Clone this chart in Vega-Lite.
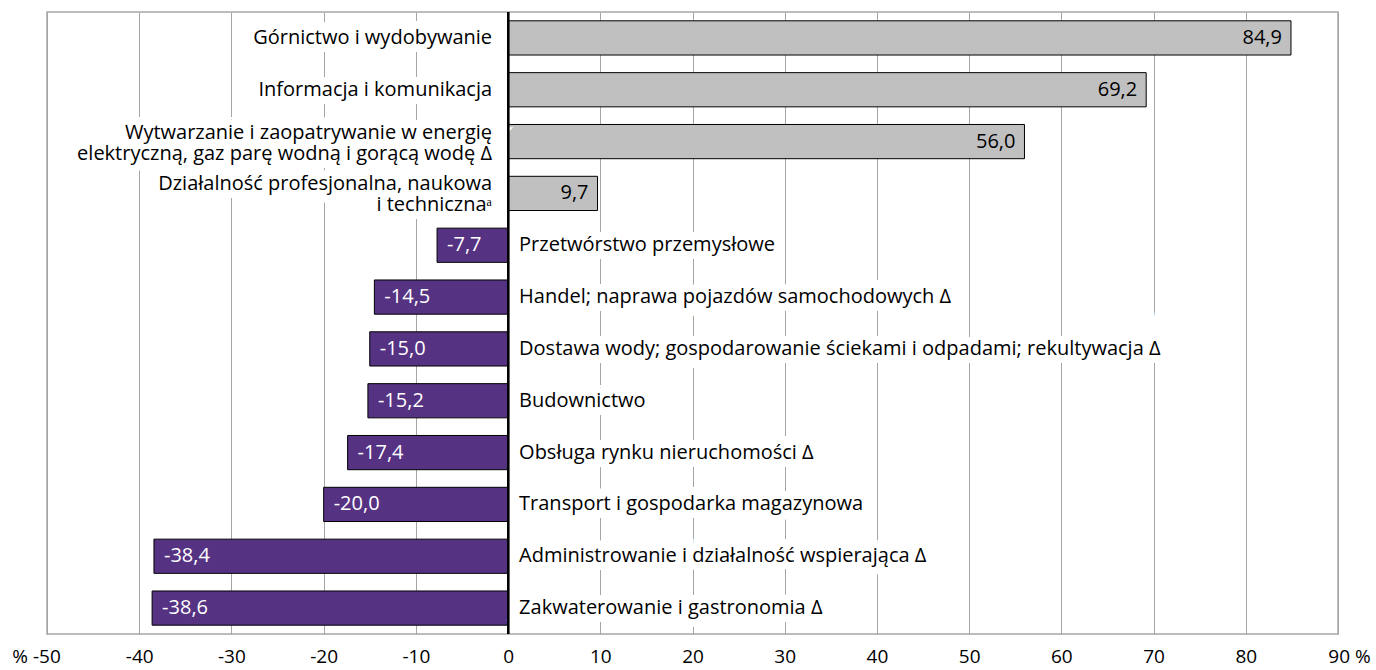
{
  "$schema": "https://vega.github.io/schema/vega-lite/v6.json",
  "width": 1291,
  "height": 622,
  "autosize": {"type": "none"},
  "padding": {"left": 47, "top": 12, "right": 38, "bottom": 36},
  "config": {
    "locale": {"number": {"decimal": ",", "thousands": " ", "grouping": [3], "currency": ["", " zł"], "minus": "-"}},
    "view": {"stroke": "#A6A6A6", "strokeWidth": 1.5},
    "font": "Open Sans",
    "text": {"lineBreak": "\n"}
  },
  "data": {
    "values": [
      {"k": "Górnictwo i wydobywanie", "v": 84.9},
      {"k": "Informacja i komunikacja", "v": 69.2},
      {"k": "Wytwarzanie i zaopatrywanie w energię\nelektryczną, gaz parę wodną i gorącą  wodę Δ", "v": 56.0},
      {"k": "Działalność profesjonalna, naukowa\ni technicznaᵃ", "v": 9.7},
      {"k": "Przetwórstwo przemysłowe", "v": -7.7},
      {"k": "Handel; naprawa pojazdów samochodowych Δ", "v": -14.5},
      {"k": "Dostawa wody; gospodarowanie ściekami i odpadami; rekultywacja Δ", "v": -15.0},
      {"k": "Budownictwo", "v": -15.2},
      {"k": "Obsługa rynku nieruchomości Δ", "v": -17.4},
      {"k": "Transport i gospodarka magazynowa", "v": -20.0},
      {"k": "Administrowanie i działalność wspierająca Δ", "v": -38.4},
      {"k": "Zakwaterowanie i gastronomia Δ", "v": -38.6}
    ]
  },
  "encoding": {
    "y": {
      "field": "k", "type": "nominal", "sort": null,
      "scale": {"paddingInner": 0.34, "paddingOuter": 0.17},
      "axis": null
    }
  },
  "layer": [
    {
      "mark": {"type": "bar", "stroke": "#000000", "strokeWidth": 1},
      "encoding": {
        "x": {
          "field": "v", "type": "quantitative",
          "scale": {"domain": [-50, 90], "nice": false},
          "axis": {
            "title": null,
            "values": [-50, -40, -30, -20, -10, 0, 10, 20, 30, 40, 50, 60, 70, 80, 90],
            "format": "d",
            "labelExpr": "datum.value == -50 ? '% ' + datum.label : (datum.value == 90 ? datum.label + ' %' : datum.label)",
            "labelOffset": {
              "condition": [
                {"test": "datum.value == -50", "value": -11},
                {"test": "datum.value == 90", "value": 11}
              ],
              "value": 0
            },
            "labelFlush": false,
            "labelOverlap": false,
            "grid": true,
            "gridColor": "#A6A6A6",
            "gridWidth": 1,
            "domain": false,
            "ticks": false,
            "labelPadding": 13,
            "labelFontSize": 19,
            "labelColor": "#000000",
            "labelFont": "Open Sans"
          }
        },
        "color": {
          "condition": {"test": "datum.v >= 0", "value": "#C0C0C0"},
          "value": "#563283"
        }
      }
    },
    {
      "transform": [{"filter": "datum.v >= 0 && indexof(datum.k, '\\n') < 0"}],
      "mark": {"type": "text", "align": "right", "baseline": "middle", "dx": -16, "fontSize": 20, "lineHeight": 21, "stroke": "#FFFFFF", "strokeWidth": 16, "fill": "#FFFFFF"},
      "encoding": {"x": {"datum": 0, "type": "quantitative"}, "text": {"field": "k"}}
    },
    {
      "transform": [{"filter": "datum.v >= 0 && indexof(datum.k, '\\n') >= 0"}],
      "mark": {"type": "text", "align": "right", "baseline": "middle", "dx": -16, "dy": -9, "fontSize": 20, "lineHeight": 21, "stroke": "#FFFFFF", "strokeWidth": 16, "fill": "#FFFFFF"},
      "encoding": {"x": {"datum": 0, "type": "quantitative"}, "text": {"field": "k"}}
    },
    {
      "transform": [{"filter": "datum.v < 0"}],
      "mark": {"type": "text", "align": "left", "baseline": "middle", "dx": 11, "fontSize": 20, "lineHeight": 21, "stroke": "#FFFFFF", "strokeWidth": 16, "fill": "#FFFFFF"},
      "encoding": {"x": {"datum": 0, "type": "quantitative"}, "text": {"field": "k"}}
    },
    {
      "transform": [{"filter": "datum.v >= 0 && indexof(datum.k, '\\n') < 0"}],
      "mark": {"type": "text", "align": "right", "baseline": "middle", "dx": -16, "fontSize": 20, "lineHeight": 21, "color": "#000000"},
      "encoding": {"x": {"datum": 0, "type": "quantitative"}, "text": {"field": "k"}}
    },
    {
      "transform": [{"filter": "datum.v >= 0 && indexof(datum.k, '\\n') >= 0"}],
      "mark": {"type": "text", "align": "right", "baseline": "middle", "dx": -16, "dy": -9, "fontSize": 20, "lineHeight": 21, "color": "#000000"},
      "encoding": {"x": {"datum": 0, "type": "quantitative"}, "text": {"field": "k"}}
    },
    {
      "transform": [{"filter": "datum.v < 0"}],
      "mark": {"type": "text", "align": "left", "baseline": "middle", "dx": 11, "fontSize": 20, "lineHeight": 21, "color": "#000000"},
      "encoding": {"x": {"datum": 0, "type": "quantitative"}, "text": {"field": "k"}}
    },
    {
      "transform": [{"filter": "datum.v >= 0"}],
      "mark": {"type": "text", "align": "right", "baseline": "middle", "dx": -9, "fontSize": 20, "color": "#000000"},
      "encoding": {"x": {"field": "v", "type": "quantitative"}, "text": {"field": "v", "type": "quantitative", "format": ".1f"}}
    },
    {
      "transform": [{"filter": "datum.v < 0"}],
      "mark": {"type": "text", "align": "left", "baseline": "middle", "dx": 10, "fontSize": 20, "color": "#FFFFFF"},
      "encoding": {"x": {"field": "v", "type": "quantitative"}, "text": {"field": "v", "type": "quantitative", "format": ".1f"}}
    },
    {
      "mark": {"type": "rule", "color": "#000000", "strokeWidth": 2},
      "encoding": {"x": {"datum": 0, "type": "quantitative"}, "y": {"value": 0}, "y2": {"value": 622}}
    }
  ]
}
